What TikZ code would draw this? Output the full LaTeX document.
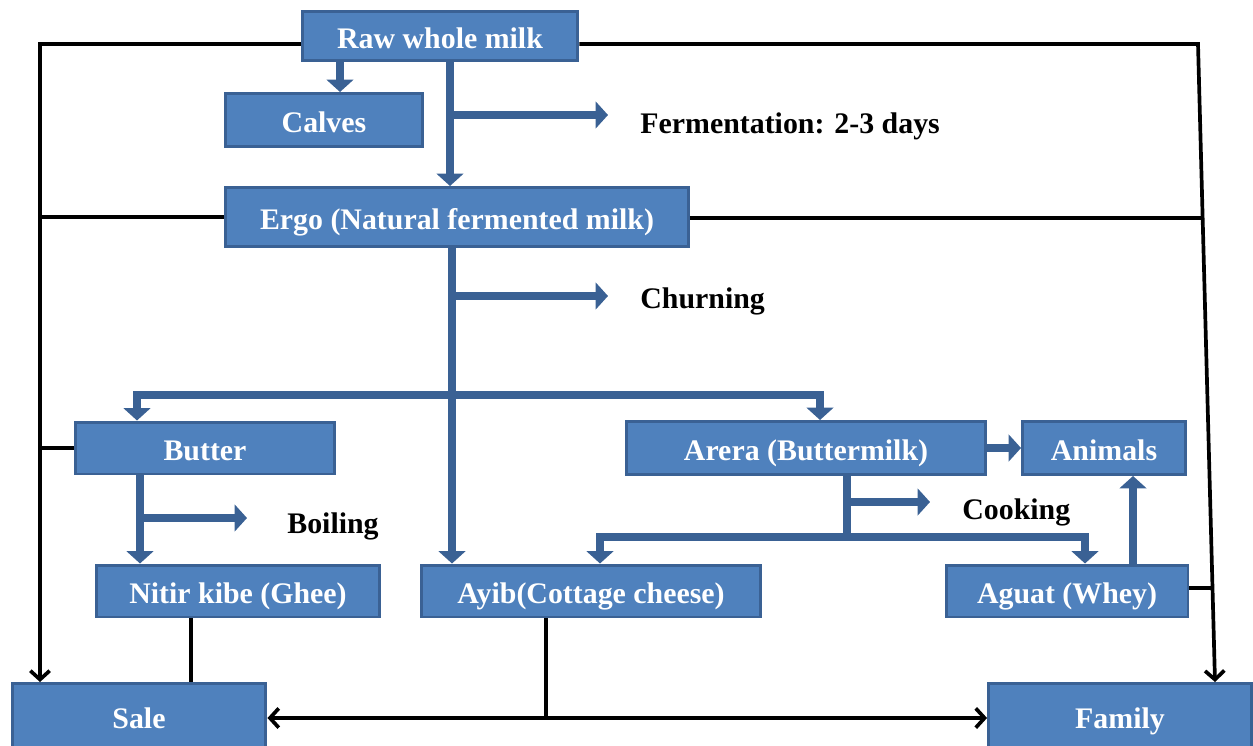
\documentclass[tikz,border=0pt]{standalone}
\usepackage{fontspec}
\setmainfont{Liberation Serif}
\usetikzlibrary{arrows.meta}

\definecolor{boxfill}{HTML}{4F81BD}
\definecolor{boxedge}{HTML}{3A6194}

\tikzset{
    stage/.style={draw=boxedge, fill=boxfill, line width=1.7pt, text=white,
        font=\fontsize{17}{20}\selectfont\bfseries, inner sep=0pt,
        text height=14pt, text depth=0pt},
    steplabel/.style={anchor=west, text=black, inner sep=0pt,
        font=\fontsize{17}{20}\selectfont\bfseries},
    flow/.style={draw=boxedge, line width=5pt, -{Triangle[length=7pt,width=15pt]}},
    flowline/.style={draw=boxedge, line width=5pt},
    link/.style={draw=black, line width=2.1pt},
    barb/.tip={Straight Barb[length=5pt,width=11pt]}
}

\begin{document}
\begin{tikzpicture}[x=0.02cm, y=-0.02cm]

    \useasboundingbox (0,0) rectangle (1253,746);

    \node[stage, minimum width=5.52cm, minimum height=0.98cm] (raw) at (440,36) {Raw whole milk};
    \node[stage, minimum width=3.94cm, minimum height=1.06cm] (calves) at (324,120) {Calves};
    \node[stage, minimum width=9.26cm, minimum height=1.18cm] (ergo) at (457,217) {Ergo (Natural fermented milk)};
    \node[stage, minimum width=5.2cm, minimum height=1.04cm] (butter) at (205,448) {Butter};
    \node[stage, minimum width=7.2cm, minimum height=1.06cm] (arera) at (806,448) {Arera (Buttermilk)};
    \node[stage, minimum width=3.26cm, minimum height=1.06cm] (animals) at (1104,448) {Animals};
    \node[stage, minimum width=5.68cm, minimum height=1.04cm] (nitir) at (238,591) {Nitir kibe (Ghee)};
    \node[stage, minimum width=6.78cm, minimum height=1.04cm] (ayib) at (591,591) {Ayib(Cottage cheese)};
    \node[stage, minimum width=4.84cm, minimum height=1.04cm] (aguat) at (1067,591) {Aguat (Whey)};
    \node[stage, minimum width=5.08cm, minimum height=1.3cm] (sale) at (139,716) {Sale};
    \node[stage, minimum width=5.26cm, minimum height=1.3cm] (family) at (1120,716) {Family};

    \node[steplabel] (ferm) at (640,126) {Fermentation: 2-3 days};
    \node[steplabel] (churn) at (640,301) {Churning};
    \node[steplabel] (boil) at (287,526) {Boiling};
    \node[steplabel] (cook) at (962,512) {Cooking};

    \coordinate (k1) at (340,0);
    \coordinate (t1) at (450,115);
    \coordinate (f1) at (608,115);
    \coordinate (s0) at (452,395);
    \coordinate (s1) at (452,296);
    \coordinate (h1) at (608,296);
    \coordinate (b1) at (137,0);
    \coordinate (b2) at (820,0);
    \coordinate (b3) at (140,518);
    \coordinate (h2) at (247,518);
    \coordinate (c0) at (847,537);
    \coordinate (c1) at (847,502);
    \coordinate (h3) at (930,502);
    \coordinate (d1) at (600,0);
    \coordinate (d2) at (1085,0);
    \coordinate (g1) at (1133,0);

    \draw[flow] (raw.south -| k1) -- (k1 |- calves.north);
    \draw[flow] (raw.south -| t1) -- (t1 |- ergo.north);
    \draw[flow] (t1) -- (f1);

    \draw[flow] (ergo.south -| s0) -- (s0 |- ayib.north);
    \draw[flow] (s1) -- (h1);
    \draw[flow] (s0) -| (b1 |- butter.north);
    \draw[flow] (s0) -| (b2 |- arera.north);

    \draw[flow] (butter.south -| b3) -- (b3 |- nitir.north);
    \draw[flow] (b3) -- (h2);

    \draw[flowline] (arera.south -| c0) -- (c0);
    \draw[flow] (c1) -- (h3);
    \draw[flow] (c0) -| (d1 |- ayib.north);
    \draw[flow] (c0) -| (d2 |- aguat.north);
    \draw[flow] (arera.east) -- (animals.west);
    \draw[flow] (aguat.north -| g1) -- (g1 |- animals.south);

    \coordinate (l1) at (40,44);
    \coordinate (r1) at (1198,44);
    \coordinate (r2) at (1215,0);
    \coordinate (r3) at (1203,218);
    \coordinate (r4) at (1212,588);
    \coordinate (n1) at (191,0);
    \coordinate (a1) at (546,718);

    \draw[link, -barb] (raw.west |- l1) -| (l1 |- sale.north);
    \draw[link] (ergo.west) -- (ergo.west -| l1);
    \draw[link] (butter.west) -- (butter.west -| l1);

    \draw[link, -barb] (raw.east |- r1) -- (r1) -- (r2 |- family.north);
    \draw[link] (ergo.east |- r3) -- (r3);
    \draw[link] (aguat.east |- r4) -- (r4);

    \draw[link] (nitir.south -| n1) -- (n1 |- sale.north);
    \draw[link] (ayib.south -| a1) -- (a1);
    \draw[link, barb-barb] (sale.east |- a1) -- (family.west |- a1);

\end{tikzpicture}
\end{document}
